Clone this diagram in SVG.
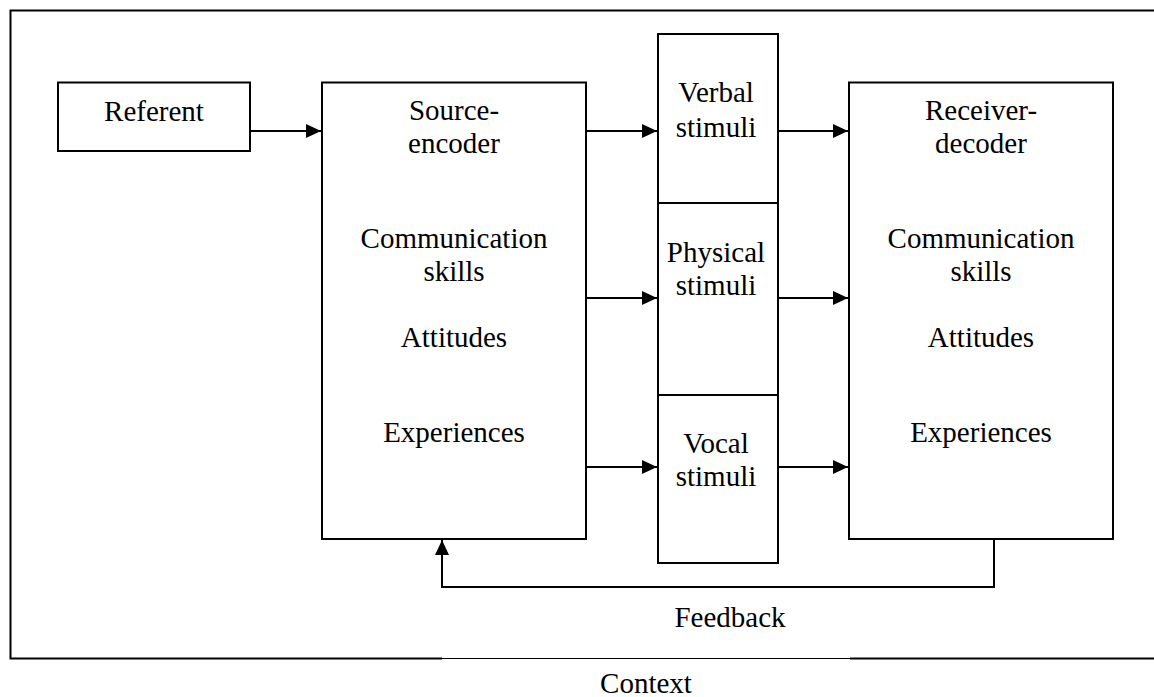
<svg xmlns="http://www.w3.org/2000/svg" width="1154" height="697" viewBox="0 0 1154 697">
<style>
.box{fill:#fff;stroke:#000;stroke-width:2}
.ln{fill:none;stroke:#000;stroke-width:2}
text{font-family:"Liberation Serif","Times New Roman",serif;font-size:29px;fill:#000;text-anchor:middle}
</style>
<defs>
<marker id="ah" markerUnits="userSpaceOnUse" markerWidth="15" markerHeight="14" refX="15" refY="7" orient="auto"><path d="M0,0 L15,7 L0,14 z" fill="#000"/></marker>
</defs>
<rect width="1154" height="697" fill="#fff"/>
<g id="context">
<path class="ln" d="M1154,10.5 L10.5,10.5 L10.5,658.5 L442,658.5"/>
<path d="M442,658.5 L850,658.5" stroke="#000" stroke-width="1.2"/>
<path class="ln" d="M850,658.5 L1154,658.5"/>
<text x="646" y="693">Context</text>
</g>
<g id="referent">
<rect class="box" x="58" y="82.5" width="192" height="68.5"/>
<text x="154" y="121">Referent</text>
</g>
<g id="source">
<rect class="box" x="322" y="82.5" width="264" height="456.5"/>
<text x="454" y="120">Source-</text>
<text x="454" y="153">encoder</text>
<text x="454" y="248">Communication</text>
<text x="454" y="281">skills</text>
<text x="454" y="347">Attitudes</text>
<text x="454" y="442">Experiences</text>
</g>
<g id="verbal">
<rect class="box" x="658" y="34" width="120" height="169"/>
<text x="716" y="102">Verbal</text>
<text x="716" y="137">stimuli</text>
</g>
<g id="physical">
<rect class="box" x="658" y="203" width="120" height="192"/>
<text x="716" y="262">Physical</text>
<text x="716" y="295">stimuli</text>
</g>
<g id="vocal">
<rect class="box" x="658" y="395" width="120" height="168"/>
<text x="716" y="453">Vocal</text>
<text x="716" y="486">stimuli</text>
</g>
<g id="receiver">
<rect class="box" x="849" y="82.5" width="264" height="456.5"/>
<text x="981" y="120">Receiver-</text>
<text x="981" y="153">decoder</text>
<text x="981" y="248">Communication</text>
<text x="981" y="281">skills</text>
<text x="981" y="347">Attitudes</text>
<text x="981" y="442">Experiences</text>
</g>
<g id="connectors">
<path class="ln" d="M250,131 L321,131" marker-end="url(#ah)"/>
<path class="ln" d="M586,131 L657,131" marker-end="url(#ah)"/>
<path class="ln" d="M586,298 L657,298" marker-end="url(#ah)"/>
<path class="ln" d="M586,467 L657,467" marker-end="url(#ah)"/>
<path class="ln" d="M778,131 L848,131" marker-end="url(#ah)"/>
<path class="ln" d="M778,298 L848,298" marker-end="url(#ah)"/>
<path class="ln" d="M778,467 L848,467" marker-end="url(#ah)"/>
<path class="ln" d="M994,539 L994,587 L442,587 L442,540" marker-end="url(#ah)"/>
<text x="730" y="627">Feedback</text>
</g>
</svg>
